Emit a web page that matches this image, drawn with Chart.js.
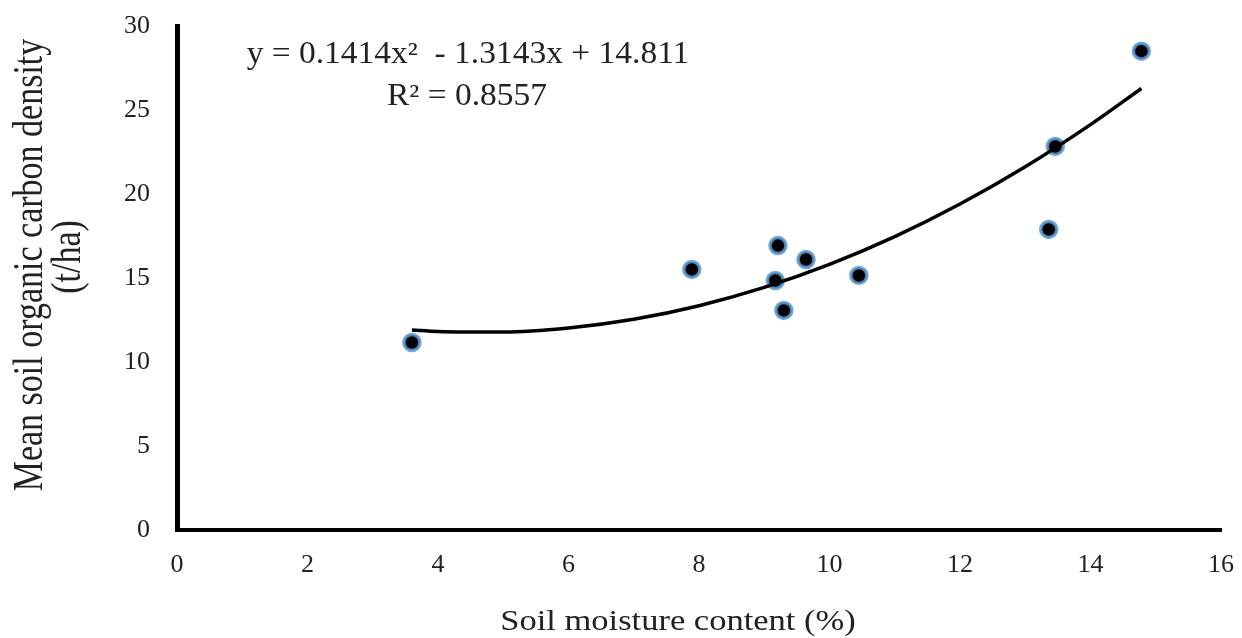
<!DOCTYPE html>
<html>
<head>
<meta charset="utf-8">
<script src="https://cdn.jsdelivr.net/npm/chart.js@4/dist/chart.umd.min.js"></script>
<style>
  body { margin: 0; background: #ffffff; }
  canvas { display: block; }
</style>
</head>
<body>
<canvas id="chart" width="1242" height="638"></canvas>
<script>
// Observed samples
const moistureX = [3.60, 7.89, 9.21, 9.17, 9.30, 9.64, 10.45, 13.36, 13.46, 14.78];
const carbonY = [11.16, 15.51, 16.93, 14.85, 13.07, 16.10, 15.15, 17.89, 22.83, 28.50];

// Polynomial trendline as drawn (read at whole x values)
const trendX = [3.6, 4, 5, 6, 7, 8, 9, 10, 11, 12, 13, 14, 14.78];
const trendY = [11.91, 11.82, 11.78, 12.02, 12.54, 13.35, 14.44, 15.81, 17.46, 19.40, 21.62, 24.13, 26.28];

const equationLines = ['y = 0.1414x\u00B2  - 1.3143x + 14.811', 'R\u00B2 = 0.8557'];
const xTitle = 'Soil moisture content (%)';
const yTitleLines = ['Mean soil organic carbon density', '(t/ha)'];

const serif = "'Liberation Serif', 'Times New Roman', serif";
const textColor = '#222222';

// text in the source image is a little wider than it is tall, so stretch it horizontally
function stretchedText(ctx, text, x, y, size, sx) {
    ctx.save();
    ctx.translate(x, y);
    ctx.scale(sx, 1);
    ctx.font = size + 'px ' + serif;
    ctx.textAlign = 'center';
    ctx.textBaseline = 'alphabetic';
    ctx.fillText(text, 0, 0);
    ctx.restore();
}

function rotatedText(ctx, text, x, y, size, sx) {
    ctx.save();
    ctx.translate(x, y);
    ctx.scale(sx, 1);
    ctx.rotate(-Math.PI / 2);
    ctx.font = size + 'px ' + serif;
    ctx.textAlign = 'center';
    ctx.textBaseline = 'alphabetic';
    ctx.fillText(text, 0, 0);
    ctx.restore();
}

const labelsPlugin = {
    id: 'labels',
    afterDraw(chart) {
        const ctx = chart.ctx;
        ctx.fillStyle = textColor;
        stretchedText(ctx, equationLines[0], 468, 63, 31, 1.08);
        stretchedText(ctx, equationLines[1], 467, 105, 31, 1.08);
        stretchedText(ctx, xTitle, 678, 630, 30, 1.15);
        rotatedText(ctx, yTitleLines[0], 42, 265, 34, 1.25);
        rotatedText(ctx, yTitleLines[1], 80, 257, 34, 1.25);
    }
};

new Chart(document.getElementById('chart'), {
    type: 'scatter',
    data: {
        datasets: [
            {
                label: 'Trendline',
                data: trendX.map((x, i) => ({ x: x, y: trendY[i] })),
                showLine: true,
                borderColor: '#000000',
                borderWidth: 3.5,
                tension: 0.4,
                cubicInterpolationMode: 'monotone',
                pointRadius: 0,
                order: 0
            },
            {
                label: 'Samples',
                data: moistureX.map((x, i) => ({ x: x, y: carbonY[i] })),
                backgroundColor: '#000000',
                borderColor: 'rgba(91, 155, 213, 0.85)',
                borderWidth: 3.5,
                pointRadius: 8,
                order: 1
            }
        ]
    },
    options: {
        responsive: false,
        animation: false,
        layout: {
            padding: { left: 0, top: 26, right: 21, bottom: 0 }
        },
        scales: {
            x: {
                type: 'linear',
                min: 0,
                max: 16,
                grid: { display: false, drawTicks: false },
                border: { display: true, color: '#000000', width: 4 },
                ticks: {
                    stepSize: 2,
                    padding: 20,
                    color: textColor,
                    font: { family: serif, size: 26 }
                },
                afterFit: (scale) => {
                    scale.height = 108;
                    scale.paddingLeft = 0;
                    scale.paddingRight = 0;
                }
            },
            y: {
                type: 'linear',
                min: 0,
                max: 30,
                grid: { display: false, drawTicks: false },
                border: { display: true, color: '#000000', width: 5 },
                ticks: {
                    stepSize: 5,
                    padding: 27,
                    color: textColor,
                    font: { family: serif, size: 26 }
                },
                afterFit: (scale) => {
                    scale.width = 177;
                    scale.paddingTop = 0;
                    scale.paddingBottom = 0;
                }
            }
        },
        plugins: {
            legend: { display: false },
            tooltip: { enabled: false }
        }
    },
    plugins: [labelsPlugin]
});
</script>
</body>
</html>
